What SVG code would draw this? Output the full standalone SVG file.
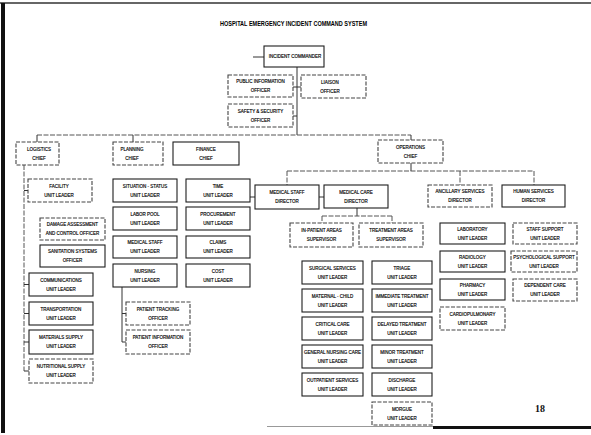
<svg xmlns="http://www.w3.org/2000/svg" width="591" height="435" viewBox="0 0 591 435">
<style>
.b{fill:#fff;stroke:#1e1e1e;stroke-width:1.1}
.d{fill:#fff;stroke:#444;stroke-width:1.1;stroke-dasharray:4 1.5}
.t{font-family:"Liberation Sans",Arial,sans-serif;font-size:4.5px;fill:#000;stroke:#000;stroke-width:0.15;text-anchor:middle}
.c{fill:none;stroke:#333;stroke-width:1}
.cd{fill:none;stroke:#555;stroke-width:1;stroke-dasharray:5 1.5}
</style>
<rect width="591" height="435" fill="#fff"/>
<g id="frame">
<line x1="0" y1="3" x2="591" y2="3" stroke="#333" stroke-width="1.5"/>
<rect x="1" y="3" width="4" height="430" fill="#111"/>
<line x1="267" y1="426.5" x2="433" y2="426.5" stroke="#999" stroke-width="1"/>
<rect x="433" y="426" width="158" height="3" fill="#111"/>
</g>
<text x="293.5" y="26" font-family="Liberation Sans,Arial,sans-serif" font-size="6.5" font-weight="bold" fill="#000" text-anchor="middle" textLength="147" lengthAdjust="spacingAndGlyphs">HOSPITAL EMERGENCY INCIDENT COMMAND SYSTEM</text>

<g id="connectors">
<path class="c" d="M253 57H264"/>
<path class="c" d="M297 67V135" stroke-width="1.4"/>
<path class="c" d="M293 87H301M293 116H297"/>
<path class="cd" d="M37 135H411"/>
<path class="c" d="M37 135V142M133 135V142M411 135V140"/>
<path class="cd" d="M24 165V371"/>
<path class="c" d="M24 190.5H28M24 284.5H29M24 313.5H29M24 342H29M24 371H29"/>
<path class="c" d="M122 287V342M122 313.5H126M122 342H126"/>
<path class="c" d="M411 163V171"/>
<path class="cd" d="M287 171H534M287 171V185M460 171V185M534 171V185"/>
<path class="c" d="M250 197H255M319 197H324"/>
<path class="c" d="M357 208V216"/>
<path class="cd" d="M322 216H392M322 216V223M392 216V223"/>
</g>

<g id="incident-commander"><rect class="b" x="264" y="46" width="60" height="21"/><text class="t" x="295" y="58.1">INCIDENT COMMANDER</text></g>
<g id="pio"><rect class="d" x="228" y="75" width="65" height="22"/><text class="t" x="260.5" y="83.3">PUBLIC INFORMATION</text><text class="t" x="260.5" y="92">OFFICER</text></g>
<g id="liaison"><rect class="d" x="301" y="75" width="65" height="23"/><text class="t" x="330" y="83.8">LIAISON</text><text class="t" x="330" y="92.5">OFFICER</text></g>
<g id="safety"><rect class="d" x="228" y="104" width="65" height="23"/><text class="t" x="260.5" y="112.8">SAFETY &amp; SECURITY</text><text class="t" x="260.5" y="121.5">OFFICER</text></g>

<g id="logistics"><rect class="d" x="16" y="142" width="43" height="23"/><text class="t" x="39" y="150.8">LOGISTICS</text><text class="t" x="39" y="159.5">CHIEF</text></g>
<g id="planning"><rect class="d" x="113" y="142" width="50" height="23"/><text class="t" x="132" y="150.8">PLANNING</text><text class="t" x="132" y="159.5">CHIEF</text></g>
<g id="finance"><rect class="b" x="173" y="142" width="66" height="23"/><text class="t" x="206" y="150.8">FINANCE</text><text class="t" x="206" y="159.5">CHIEF</text></g>
<g id="operations"><rect class="d" x="378" y="140" width="65" height="23"/><text class="t" x="410.5" y="148.8">OPERATIONS</text><text class="t" x="410.5" y="157.5">CHIEF</text></g>

<g id="facility"><rect class="d" x="28" y="179" width="64" height="23"/><text class="t" x="59" y="187.8">FACILITY</text><text class="t" x="59" y="196.5">UNIT LEADER</text></g>
<g id="damage"><rect class="d" x="40" y="218" width="65" height="22"/><text class="t" x="72.5" y="226.3">DAMAGE ASSESSMENT</text><text class="t" x="72.5" y="235">AND CONTROL OFFICER</text></g>
<g id="sanitation"><rect class="b" x="40" y="245" width="65" height="22"/><text class="t" x="72.5" y="253.3">SANITATION SYSTEMS</text><text class="t" x="72.5" y="262">OFFICER</text></g>
<g id="communications"><rect class="b" x="29" y="273" width="64" height="23"/><text class="t" x="61" y="281.8">COMMUNICATIONS</text><text class="t" x="61" y="290.5">UNIT LEADER</text></g>
<g id="transportation"><rect class="b" x="29" y="302" width="64" height="23"/><text class="t" x="61" y="310.8">TRANSPORTATION</text><text class="t" x="61" y="319.5">UNIT LEADER</text></g>
<g id="materials"><rect class="b" x="29" y="330" width="64" height="24"/><text class="t" x="61" y="339.3">MATERIALS SUPPLY</text><text class="t" x="61" y="348">UNIT LEADER</text></g>
<g id="nutritional"><rect class="d" x="29" y="359" width="64" height="24"/><text class="t" x="61" y="368.3">NUTRITIONAL SUPPLY</text><text class="t" x="61" y="377">UNIT LEADER</text></g>

<g id="situation"><rect class="b" x="113" y="179" width="64" height="23"/><text class="t" x="145" y="187.8">SITUATION - STATUS</text><text class="t" x="145" y="196.5">UNIT LEADER</text></g>
<g id="labor"><rect class="b" x="113" y="207" width="64" height="23"/><text class="t" x="145" y="215.8">LABOR POOL</text><text class="t" x="145" y="224.5">UNIT LEADER</text></g>
<g id="medical-staff-ul"><rect class="b" x="113" y="236" width="64" height="22"/><text class="t" x="145" y="244.3">MEDICAL STAFF</text><text class="t" x="145" y="253">UNIT LEADER</text></g>
<g id="nursing"><rect class="b" x="113" y="264" width="64" height="23"/><text class="t" x="145" y="272.8">NURSING</text><text class="t" x="145" y="281.5">UNIT LEADER</text></g>
<g id="patient-tracking"><rect class="d" x="126" y="302" width="64" height="23"/><text class="t" x="158" y="310.8">PATIENT TRACKING</text><text class="t" x="158" y="319.5">OFFICER</text></g>
<g id="patient-information"><rect class="d" x="126" y="330" width="64" height="24"/><text class="t" x="158" y="339.3">PATIENT INFORMATION</text><text class="t" x="158" y="348">OFFICER</text></g>

<g id="time"><rect class="b" x="186" y="179" width="64" height="23"/><text class="t" x="218" y="187.8">TIME</text><text class="t" x="218" y="196.5">UNIT LEADER</text></g>
<g id="procurement"><rect class="b" x="186" y="207" width="64" height="23"/><text class="t" x="218" y="215.8">PROCUREMENT</text><text class="t" x="218" y="224.5">UNIT LEADER</text></g>
<g id="claims"><rect class="b" x="186" y="236" width="64" height="22"/><text class="t" x="218" y="244.3">CLAIMS</text><text class="t" x="218" y="253">UNIT LEADER</text></g>
<g id="cost"><rect class="b" x="186" y="264" width="64" height="23"/><text class="t" x="218" y="272.8">COST</text><text class="t" x="218" y="281.5">UNIT LEADER</text></g>

<g id="medical-staff-director"><rect class="b" x="255" y="185" width="64" height="24"/><text class="t" x="287" y="194.3">MEDICAL STAFF</text><text class="t" x="287" y="203">DIRECTOR</text></g>
<g id="medical-care-director"><rect class="b" x="324" y="185" width="64" height="23" stroke-width="1.4"/><text class="t" x="356" y="193.8">MEDICAL CARE</text><text class="t" x="356" y="202.5">DIRECTOR</text></g>
<g id="inpatient-supervisor"><rect class="d" x="290" y="223" width="63" height="24"/><text class="t" x="321.5" y="232.3">IN-PATIENT AREAS</text><text class="t" x="321.5" y="241">SUPERVISOR</text></g>
<g id="treatment-supervisor"><rect class="d" x="359" y="223" width="64" height="24"/><text class="t" x="391" y="232.3">TREATMENT AREAS</text><text class="t" x="391" y="241">SUPERVISOR</text></g>
<g id="ancillary-director"><rect class="d" x="428" y="185" width="64" height="22"/><text class="t" x="460" y="193.3">ANCILLARY SERVICES</text><text class="t" x="460" y="202">DIRECTOR</text></g>
<g id="human-director"><rect class="b" x="502" y="185" width="63" height="22"/><text class="t" x="533.5" y="193.3">HUMAN SERVICES</text><text class="t" x="533.5" y="202">DIRECTOR</text></g>

<g id="surgical"><rect class="b" x="302" y="261" width="61" height="23"/><text class="t" x="332.5" y="269.8">SURGICAL SERVICES</text><text class="t" x="332.5" y="278.5">UNIT LEADER</text></g>
<g id="maternal"><rect class="b" x="302" y="289" width="61" height="23"/><text class="t" x="332.5" y="297.8">MATERNAL - CHILD</text><text class="t" x="332.5" y="306.5">UNIT LEADER</text></g>
<g id="critical"><rect class="b" x="302" y="317" width="61" height="23"/><text class="t" x="332.5" y="325.8">CRITICAL CARE</text><text class="t" x="332.5" y="334.5">UNIT LEADER</text></g>
<g id="general-nursing"><rect class="b" x="302" y="345" width="61" height="23"/><text class="t" x="332.5" y="353.8">GENERAL NURSING CARE</text><text class="t" x="332.5" y="362.5">UNIT LEADER</text></g>
<g id="outpatient"><rect class="b" x="302" y="373" width="61" height="23"/><text class="t" x="332.5" y="381.8">OUTPATIENT SERVICES</text><text class="t" x="332.5" y="390.5">UNIT LEADER</text></g>

<g id="triage"><rect class="b" x="372" y="261" width="60" height="23"/><text class="t" x="402" y="269.8">TRIAGE</text><text class="t" x="402" y="278.5">UNIT LEADER</text></g>
<g id="immediate"><rect class="b" x="372" y="289" width="60" height="23"/><text class="t" x="402" y="297.8">IMMEDIATE TREATMENT</text><text class="t" x="402" y="306.5">UNIT LEADER</text></g>
<g id="delayed"><rect class="b" x="372" y="317" width="60" height="23"/><text class="t" x="402" y="325.8">DELAYED TREATMENT</text><text class="t" x="402" y="334.5">UNIT LEADER</text></g>
<g id="minor"><rect class="b" x="372" y="345" width="60" height="23"/><text class="t" x="402" y="353.8">MINOR TREATMENT</text><text class="t" x="402" y="362.5">UNIT LEADER</text></g>
<g id="discharge"><rect class="b" x="372" y="373" width="60" height="23"/><text class="t" x="402" y="381.8">DISCHARGE</text><text class="t" x="402" y="390.5">UNIT LEADER</text></g>
<g id="morgue"><rect class="d" x="372" y="402" width="60" height="23"/><text class="t" x="402" y="410.8">MORGUE</text><text class="t" x="402" y="419.5">UNIT LEADER</text></g>

<g id="laboratory"><rect class="b" x="440" y="223" width="65" height="21"/><text class="t" x="472.5" y="230.8">LABORATORY</text><text class="t" x="472.5" y="239.5">UNIT LEADER</text></g>
<g id="radiology"><rect class="b" x="440" y="251" width="65" height="21"/><text class="t" x="472.5" y="258.8">RADIOLOGY</text><text class="t" x="472.5" y="267.5">UNIT LEADER</text></g>
<g id="pharmacy"><rect class="b" x="440" y="279" width="65" height="21"/><text class="t" x="472.5" y="286.8">PHARMACY</text><text class="t" x="472.5" y="295.5">UNIT LEADER</text></g>
<g id="cardiopulmonary"><rect class="d" x="440" y="307" width="65" height="23"/><text class="t" x="472.5" y="315.8">CARDIOPULMONARY</text><text class="t" x="472.5" y="324.5">UNIT LEADER</text></g>

<g id="staff-support"><rect class="d" x="513" y="223" width="64" height="21"/><text class="t" x="545" y="230.8">STAFF SUPPORT</text><text class="t" x="545" y="239.5">UNIT LEADER</text></g>
<g id="psychological"><rect class="d" x="511" y="251" width="66" height="21"/><text class="t" x="544" y="258.8">PSYCHOLOGICAL SUPPORT</text><text class="t" x="544" y="267.5">UNIT LEADER</text></g>
<g id="dependent-care"><rect class="d" x="513" y="279" width="64" height="22"/><text class="t" x="545" y="287.3">DEPENDENT CARE</text><text class="t" x="545" y="296">UNIT LEADER</text></g>

<text x="540" y="412" font-family="Liberation Serif,Times New Roman,serif" font-size="10" font-weight="bold" fill="#111" text-anchor="middle">18</text>
</svg>
